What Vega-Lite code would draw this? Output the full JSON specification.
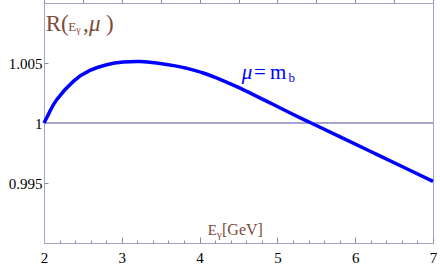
{
  "$schema": "https://vega.github.io/schema/vega-lite/v6.json",
  "width": 389,
  "height": 240,
  "autosize": {"type": "none"},
  "padding": {"left": 44, "top": 3, "right": 7, "bottom": 29},
  "background": "white",
  "config": {
    "aria": false,
    "font": "Liberation Serif",
    "text": {"font": "Liberation Serif"},
    "view": {"stroke": "#a3a3cc", "strokeWidth": 1},
    "axis": {"grid": false, "title": null, "domainColor": "#a3a3cc", "tickColor": "#8a8aaa", "labelFont": "Liberation Serif", "labelFontSize": 15, "labelColor": "#000000"}
  },
  "resolve": {"axis": {"x": "independent"}},
  "data": {
    "values": [
      {"E": 2.0, "R": 1.0},
      {"E": 2.07, "R": 1.0009},
      {"E": 2.163, "R": 1.00194},
      {"E": 2.377, "R": 1.00347},
      {"E": 2.591, "R": 1.00438},
      {"E": 2.806, "R": 1.00486},
      {"E": 3.019, "R": 1.00508},
      {"E": 3.234, "R": 1.00513},
      {"E": 3.449, "R": 1.005},
      {"E": 3.706, "R": 1.00474},
      {"E": 3.834, "R": 1.00456},
      {"E": 4.048, "R": 1.00417},
      {"E": 4.262, "R": 1.00364},
      {"E": 4.477, "R": 1.00303},
      {"E": 4.69, "R": 1.00237},
      {"E": 4.905, "R": 1.00168},
      {"E": 5.12, "R": 1.00098},
      {"E": 5.3, "R": 1.00041},
      {"E": 5.46, "R": 0.99992},
      {"E": 5.8, "R": 0.99886},
      {"E": 6.233, "R": 0.99752},
      {"E": 6.662, "R": 0.99619},
      {"E": 7.0, "R": 0.99514}
    ]
  },
  "layer": [
    {
      "mark": {"type": "rule", "color": "#a3a3cc", "strokeWidth": 1},
      "encoding": {"y": {"datum": 1, "type": "quantitative"}}
    },
    {
      "mark": {"type": "point", "opacity": 0},
      "encoding": {
        "x": {
          "field": "E", "type": "quantitative",
          "scale": {"domain": [2, 7], "nice": false, "zero": false},
          "axis": {
            "orient": "bottom",
            "values": [2.2, 2.4, 2.6, 2.8, 3.2, 3.4, 3.6, 3.8, 4.2, 4.4, 4.6, 4.8, 5.2, 5.4, 5.6, 5.8, 6.2, 6.4, 6.6, 6.8],
            "labels": false,
            "domain": false,
            "tickSize": -3
          }
        }
      }
    },
    {
      "mark": {"type": "line", "color": "#0000ff", "strokeWidth": 3.5, "interpolate": "natural"},
      "encoding": {
        "x": {
          "field": "E", "type": "quantitative",
          "scale": {"domain": [2, 7], "nice": false, "zero": false},
          "axis": {
            "orient": "bottom",
            "values": [2, 3, 4, 5, 6, 7],
            "format": "d",
            "tickSize": -6,
            "labelPadding": 13,
            "labelFont": "Liberation Serif",
            "labelFlush": false,
            "labelOverlap": false
          }
        },
        "y": {
          "field": "R", "type": "quantitative",
          "scale": {"domain": [0.99, 1.01], "nice": false, "zero": false},
          "axis": {"values": [0.995, 1, 1.005], "format": "~g", "tickSize": -4, "labelPadding": 6, "labelFont": "Liberation Serif"}
        }
      }
    },
    {
      "data": {"values": [{}]},
      "mark": {"type": "text", "font": "Liberation Serif", "color": "#7d4b3a", "fontSize": 23, "align": "left", "baseline": "alphabetic"},
      "encoding": {"x": {"datum": 2.022}, "y": {"datum": 1.00769}, "text": {"value": "R("}}
    },
    {
      "data": {"values": [{}]},
      "mark": {"type": "text", "font": "Liberation Serif", "color": "#7d4b3a", "fontSize": 13, "align": "left", "baseline": "alphabetic"},
      "encoding": {"x": {"datum": 2.312}, "y": {"datum": 1.00769}, "text": {"value": "E"}}
    },
    {
      "data": {"values": [{}]},
      "mark": {"type": "text", "font": "Liberation Serif", "color": "#7d4b3a", "fontSize": 10, "align": "left", "baseline": "alphabetic"},
      "encoding": {"x": {"datum": 2.414}, "y": {"datum": 1.00748}, "text": {"value": "γ"}}
    },
    {
      "data": {"values": [{}]},
      "mark": {"type": "text", "font": "Liberation Serif", "color": "#7d4b3a", "fontSize": 23, "align": "left", "baseline": "alphabetic"},
      "encoding": {"x": {"datum": 2.5013}, "y": {"datum": 1.00769}, "text": {"value": ","}}
    },
    {
      "data": {"values": [{}]},
      "mark": {"type": "text", "font": "Liberation Serif", "color": "#7d4b3a", "fontSize": 23, "fontStyle": "italic", "align": "left", "baseline": "alphabetic"},
      "encoding": {"x": {"datum": 2.578}, "y": {"datum": 1.00769}, "text": {"value": "μ"}}
    },
    {
      "data": {"values": [{}]},
      "mark": {"type": "text", "font": "Liberation Serif", "color": "#7d4b3a", "fontSize": 23, "align": "left", "baseline": "alphabetic"},
      "encoding": {"x": {"datum": 2.797}, "y": {"datum": 1.00769}, "text": {"value": ")"}}
    },
    {
      "data": {"values": [{}]},
      "mark": {"type": "text", "font": "Liberation Serif", "color": "#7d4b3a", "fontSize": 15, "align": "left", "baseline": "alphabetic"},
      "encoding": {"x": {"datum": 4.104}, "y": {"datum": 0.99067}, "text": {"value": "E"}}
    },
    {
      "data": {"values": [{}]},
      "mark": {"type": "text", "font": "Liberation Serif", "color": "#7d4b3a", "fontSize": 11, "align": "left", "baseline": "alphabetic"},
      "encoding": {"x": {"datum": 4.224}, "y": {"datum": 0.99044}, "text": {"value": "γ"}}
    },
    {
      "data": {"values": [{}]},
      "mark": {"type": "text", "font": "Liberation Serif", "color": "#7d4b3a", "fontSize": 16, "align": "left", "baseline": "alphabetic"},
      "encoding": {"x": {"datum": 4.288}, "y": {"datum": 0.99067}, "text": {"value": "[GeV]"}}
    },
    {
      "data": {"values": [{}]},
      "mark": {"type": "text", "font": "Liberation Serif", "color": "#0000ff", "fontSize": 21, "fontStyle": "italic", "align": "left", "baseline": "alphabetic"},
      "encoding": {"x": {"datum": 4.541}, "y": {"datum": 1.00367}, "text": {"value": "μ"}}
    },
    {
      "data": {"values": [{}]},
      "mark": {"type": "text", "font": "Liberation Serif", "color": "#0000ff", "fontSize": 21, "align": "left", "baseline": "alphabetic"},
      "encoding": {"x": {"datum": 4.699}, "y": {"datum": 1.00367}, "text": {"value": "="}}
    },
    {
      "data": {"values": [{}]},
      "mark": {"type": "text", "font": "Liberation Serif", "color": "#0000ff", "fontSize": 21, "align": "left", "baseline": "alphabetic"},
      "encoding": {"x": {"datum": 4.905}, "y": {"datum": 1.00367}, "text": {"value": "m"}}
    },
    {
      "data": {"values": [{}]},
      "mark": {"type": "text", "font": "Liberation Serif", "color": "#0000ff", "fontSize": 13, "align": "left", "baseline": "alphabetic"},
      "encoding": {"x": {"datum": 5.143}, "y": {"datum": 1.00338}, "text": {"value": "b"}}
    }
  ]
}
